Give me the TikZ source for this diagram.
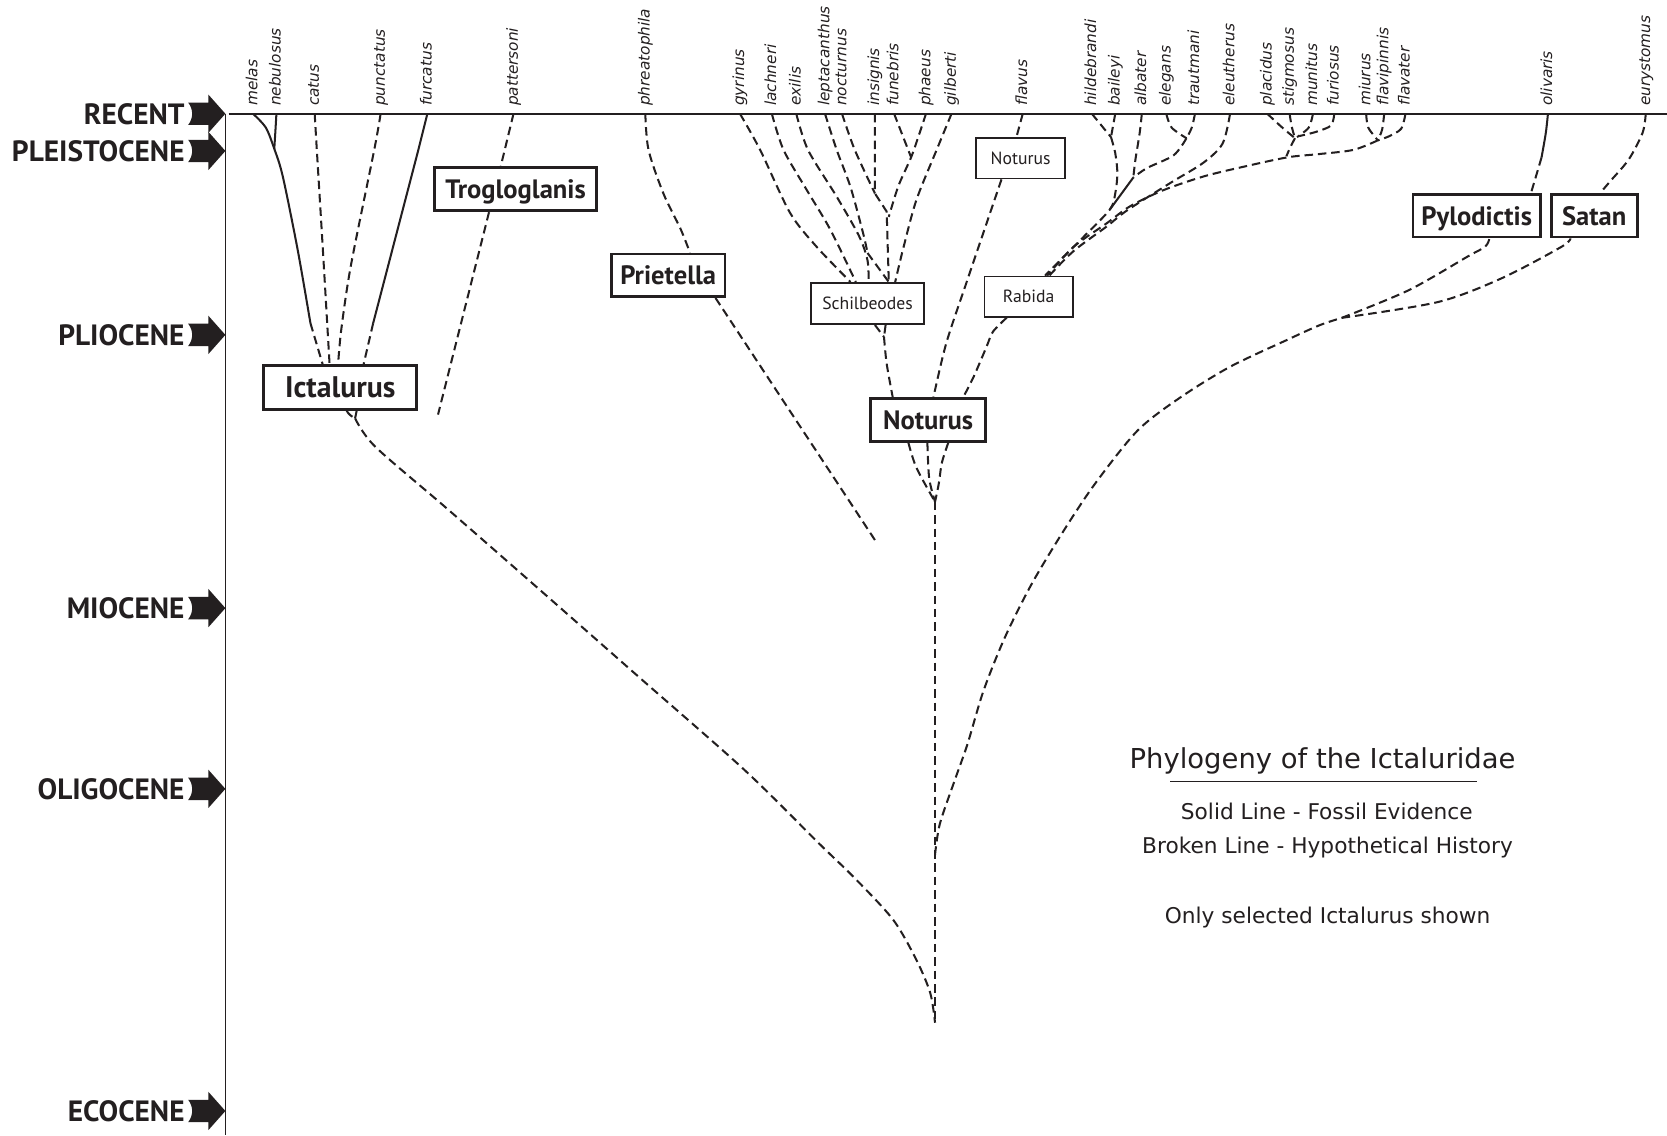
\documentclass[tikz,border=0pt]{standalone}
\usepackage{fontspec}
\setmainfont{DejaVu Sans}
\newfontfamily\spfont{DejaVu Sans}
\newfontfamily\boxfont{PT Sans}
\newfontfamily\legfont{DejaVu Sans}
\definecolor{ink}{RGB}{35,31,32}
\begin{document}
\begin{tikzpicture}[x=0.5pt,y=-0.5pt,
  dl/.style={draw=ink,line width=0.95pt,dash pattern=on 4pt off 2.3pt},
  sl/.style={draw=ink,line width=0.95pt},
  bigbox/.style={draw=ink,line width=1.3pt,inner sep=0pt,text=ink,text depth=0pt,font=\boxfont\bfseries\fontsize{12.5}{14}\selectfont},
  smallbox/.style={draw=ink,line width=0.75pt,inner sep=0pt,text=ink,font=\boxfont\fontsize{8.3}{10}\selectfont},
  sp/.style={rotate=90,anchor=base west,inner sep=0pt,text=ink,font=\spfont\itshape\fontsize{7.2}{8}\selectfont},
  era/.style={anchor=east,inner sep=0pt,text=ink,font=\boxfont\bfseries\fontsize{13.8}{15}\selectfont},
  leg/.style={anchor=base,inner sep=0pt,text=ink,font=\legfont\fontsize{10.2}{12}\selectfont},
  eraarr/.pic={\fill[ink] (-35,-10.5) -- (-16,-10.5) -- (-16,-18) -- (0,0) -- (-16,18) -- (-16,10.5) -- (-35,10.5) .. controls (-30,4) and (-30,-4) .. (-35,-10.5) -- cycle;}
]
\fill[white] (0,0) rectangle (1568,1068);
\useasboundingbox (0,0) rectangle (1568,1068);

% axes
\draw[ink,line width=0.8pt] (212,107) -- (212,1068);
\draw[ink,line width=0.8pt] (215,107) -- (1568,107);

% eras
\foreach \lab/\y/\nm in {RECENT/107/recent,PLEISTOCENE/142/pleist,PLIOCENE/315/plio,MIOCENE/572/mio,OLIGOCENE/742/oligo,ECOCENE/1045/eco}{
  \node[era] (e-\nm) at (174,\y) {\lab};
  \pic at (212,\y) {eraarr};
}

% species labels and line tops
\foreach \n/\x in {melas/238,nebulosus/260,catus/296,punctatus/358,furcatus/402,pattersoni/483,phreatophila/607,gyrinus/696,lachneri/726,exilis/749,leptacanthus/776,nocturnus/792,insignis/823,funebris/841,phaeus/871,gilberti/895,flavus/962,hildebrandi/1027,baileyi/1049,albater/1074,elegans/1097,trautmani/1124,eleutherus/1157,placidus/1192,stigmosus/1213,munitus/1235,furiosus/1255,miurus/1285,flavipinnis/1302,flavater/1322,olivaris/1456,eurystomus/1548}{
  \node[sp] (s-\n) at (\x+4,100) {\n};
  \coordinate (t-\n) at (\x,107);
}

% boxes
\node[bigbox,minimum width=72pt,minimum height=20.5pt,font=\boxfont\bfseries\fontsize{14}{16}\selectfont] (ict) at (320,364.5) {Ictalurus};
\node[bigbox,minimum width=76pt,minimum height=20.25pt] (troglo) at (485,178) {Trogloglanis};
\node[bigbox,minimum width=53.5pt,minimum height=20pt] (priet) at (628.5,259) {Prietella};
\node[bigbox,minimum width=54pt,minimum height=20pt] (notbig) at (873,395) {Noturus};
\node[bigbox,minimum width=60pt,minimum height=20pt] (pylo) at (1389,203) {Pylodictis};
\node[bigbox,minimum width=40.5pt,minimum height=20pt] (satan) at (1499.5,203) {Satan};
\node[smallbox,minimum width=42pt,minimum height=19pt] (notsm) at (960,149) {Noturus};
\node[smallbox,minimum width=53pt,minimum height=19.5pt] (schil) at (816,285.5) {Schilbeodes};
\node[smallbox,minimum width=41.5pt,minimum height=19pt] (rab) at (967.5,279) {Rabida};

\coordinate (ictj) at (334,393.5);
\coordinate (notj) at (879.5,472);
\coordinate (root) at (879.5,962);
\coordinate (rj) at (879.5,804);
\coordinate (psj) at (1262,299);

% Ictalurus group
\draw[sl] plot[smooth] coordinates {(t-melas) (250,120) (258,140) (266,166) (280,235) (292,304)};
\draw[dl] (292,304) -- (303.5,0 |- ict.north);
\draw[sl] (t-nebulosus) -- (259,124) -- (258,140);
\draw[dl] plot[smooth] coordinates {(t-catus) (298,141) (304,240) (310,0 |- ict.north)};
\draw[dl] plot[smooth] coordinates {(t-punctatus) (352,141) (330,250) (321,310) (318,0 |- ict.north)};
\draw[sl] (t-furcatus) -- (393.5,141) -- (351,304);
\draw[dl] (351,304) -- (342,0 |- ict.north);
\draw[dl] (t-pattersoni) -- (471,0 |- troglo.north);
\draw[dl] (460,0 |- troglo.south) -- (412,390);
\draw[dl] (326,0 |- ict.south) to[out=-60,in=150] (ictj);
\draw[dl] (335.5,0 |- ict.south) -- (ictj);
\draw[dl] plot[smooth] coordinates {(ictj) (352.8,420) (420,478) (500,548) (600,636) (700,724) (771,794) (803,825) (840,865) (862,903) (875,934) (root)};

% Prietella
\draw[dl] plot[smooth] coordinates {(t-phreatophila) (610,141) (624,182) (640,215) (649,0 |- priet.north)};
\draw[dl] (673,0 |- priet.south) -- (823,508);

% Schilbeodes fan
\draw[dl] plot[smooth] coordinates {(t-gyrinus) (715,141) (743,200) (768,232) (800,0 |- schil.north)};
\draw[dl] plot[smooth] coordinates {(t-lachneri) (737,141) (759,179) (781,216) (805,0 |- schil.north)};
\draw[dl] plot[smooth] coordinates {(t-exilis) (760,141) (787,185) (808,222) (816,245) (817,0 |- schil.north)};
\draw[dl] plot[smooth] coordinates {(t-leptacanthus) (787,141) (800,176) (812,220) (816,238)};
\draw[dl] (816,238) -- (836,0 |- schil.north);
\draw[dl] plot[smooth] coordinates {(t-nocturnus) (804,141) (823,182)};
\draw[dl] (t-insignis) -- (823,182) -- (834,199) -- (836,0 |- schil.north);
\draw[dl] (t-funebris) -- (857,148);
\draw[dl] plot[smooth] coordinates {(t-phaeus) (864,128) (857,148) (845,175) (836,204)};
\draw[dl] plot[smooth] coordinates {(t-gilberti) (881,141) (862,188) (850,232) (842,0 |- schil.north)};
\draw[dl] (823,0 |- schil.south) -- (831.5,317);
\draw[dl] (833,0 |- schil.south) -- (831.5,317);
\draw[dl] plot[smooth] coordinates {(831.5,317) (834,342) (839.7,0 |- notbig.north)};

% flavus / small Noturus
\draw[dl] (t-flavus) -- (956,0 |- notsm.north);
\draw[dl] plot[smooth] coordinates {(942,0 |- notsm.south) (928,210) (909,266) (890,323) (878,0 |- notbig.north)};

% Rabida
\draw[dl] plot[smooth] coordinates {(947,0 |- rab.south) (934,312) (928,326) (916,354) (906,0 |- notbig.north)};
\draw[dl] (t-hildebrandi) -- (1045,129);
\draw[dl] (t-baileyi) -- (1047,118) -- (1045,129);
\draw[dl] plot[smooth] coordinates {(1045,129) (1049,144) (1051,163) (1049,182) (1044,197) (1020,222) (997,245) (983,0 |- rab.north)};
\draw[dl] plot[smooth] coordinates {(t-albater) (1072,125) (1068,150) (1066,167)};
\draw[sl] (1066,167) -- (1044,197);
\draw[dl] plot[smooth] coordinates {(t-elegans) (1102,120) (1116,130)};
\draw[dl] plot[smooth] coordinates {(t-trautmani) (1121,120) (1116,130)};
\draw[dl] plot[smooth] coordinates {(1116,130) (1104,146) (1079,158) (1066,167)};
\draw[dl] plot[smooth] coordinates {(t-eleutherus) (1150,135) (1132,153) (1101,172) (1060,198) (1041,213) (1010,236) (987,0 |- rab.north)};
\draw[dl] plot[smooth] coordinates {(t-placidus) (1205,119) (1218,130)};
\draw[dl] plot[smooth] coordinates {(t-stigmosus) (1215,119) (1218,130)};
\draw[dl] plot[smooth] coordinates {(t-munitus) (1231,120) (1220,129)};
\draw[dl] plot[smooth] coordinates {(t-furiosus) (1252,118) (1238,124) (1222,128)};
\draw[dl] plot[smooth] coordinates {(1218,130) (1213,140) (1210,147)};
\draw[dl] plot[smooth] coordinates {(t-miurus) (1287,120) (1296,132)};
\draw[dl] plot[smooth] coordinates {(t-flavipinnis) (1300,122) (1296,132)};
\draw[dl] plot[smooth] coordinates {(t-flavater) (1318,121) (1307,128) (1296,132)};
\draw[dl] plot[smooth] coordinates {(1296,132) (1273,141) (1240,145) (1211,148) (1169,157) (1132,166) (1094,179) (1063,194) (1041,210) (1010,232) (985,0 |- rab.north)};

% Noturus base and trunk
\draw[dl] plot[smooth] coordinates {(854.4,0 |- notbig.south) (862,440) (notj)};
\draw[dl] plot[smooth] coordinates {(872.3,0 |- notbig.south) (874,450) (notj)};
\draw[dl] plot[smooth] coordinates {(892,0 |- notbig.south) (886,435) (883,455) (notj)};
\draw[dl] (notj) -- (root);

% right branch
\draw[dl] plot[smooth] coordinates {(rj) (884,775) (898,734) (910,700) (925,650) (945,600) (970,550) (1000,500) (1030,455) (1070,405) (1110,374) (1157,345) (1210,320) (1241,306) (psj)};
\draw[dl] plot[smooth] coordinates {(psj) (1325,273) (1381,241) (1397,232) (1401,0 |- pylo.south)};
\draw[dl] plot[smooth] coordinates {(psj) (1353,284) (1413,261.5) (1469,232) (1477,0 |- satan.south)};
\draw[sl] plot[smooth] coordinates {(t-olivaris) (1454,125) (1450,148)};
\draw[dl] plot[smooth] coordinates {(1450,148) (1445,165) (1440,0 |- pylo.north)};
\draw[dl] plot[smooth] coordinates {(t-eurystomus) (1545,125) (1532,150) (1515,170) (1505,0 |- satan.north)};

% legend
\node[leg,font=\legfont\fontsize{12.9}{15}\selectfont] (title) at (1244,722.6) {Phylogeny of the Ictaluridae};
\draw[ink,line width=0.6pt] (1100.6,735.3) -- (1389,735.3);
\node[leg] (l1) at (1248,771.3) {Solid Line - Fossil Evidence};
\node[leg] (l2) at (1248.7,802.7) {Broken Line - Hypothetical History};
\node[leg] (l3) at (1248.8,868.5) {Only selected Ictalurus shown};
\end{tikzpicture}
\end{document}
